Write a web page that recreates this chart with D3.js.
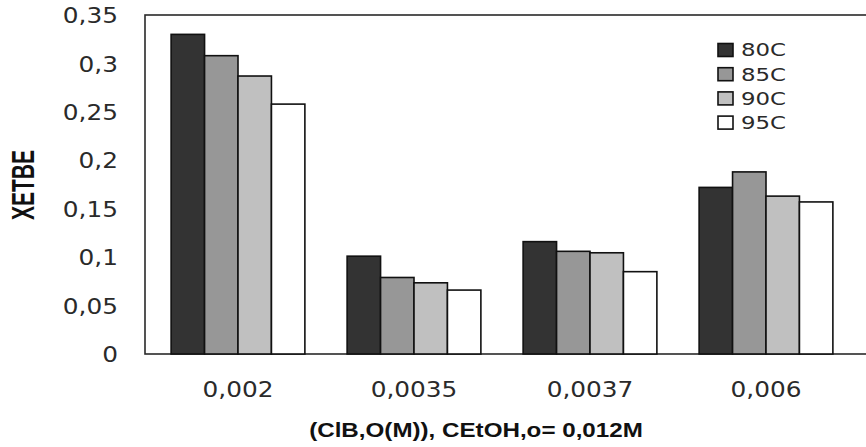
<!DOCTYPE html>
<html>
<head>
<meta charset="utf-8">
<script src="https://cdn.jsdelivr.net/npm/d3@7"></script>
<style>
  html, body { margin: 0; padding: 0; background: #fff; }
  svg { display: block; }
</style>
</head>
<body>
<svg id="chart" width="866" height="447"></svg>
<script>
// Initial concentration categories on the x axis
const categories = ["0,002", "0,0035", "0,0037", "0,006"];
// Temperature series
const seriesNames = ["80C", "85C", "90C", "95C"];
const seriesColors = ["#333333", "#979797", "#c0c0c0", "#ffffff"];
// XETBE values per series, one per category
const values80 = [0.330, 0.101, 0.116, 0.172];
const values85 = [0.308, 0.079, 0.106, 0.188];
const values90 = [0.287, 0.0735, 0.1045, 0.163];
const values95 = [0.258, 0.066, 0.085, 0.157];
const yTickValues = [0, 0.05, 0.1, 0.15, 0.2, 0.25, 0.3, 0.35];
const yTitle = "XETBE";
const xTitle = "(ClB,O(M)), CEtOH,o= 0,012M";

const seriesValues = [values80, values85, values90, values95];
const rows = categories.map((c, i) => ({
  cat: c,
  vals: seriesNames.map((s, j) => ({ key: s, value: seriesValues[j][i], color: seriesColors[j] }))
}));

const svg = d3.select("#chart");
const plot = { left: 145, top: 15, right: 880, bottom: 354 };

const y = d3.scaleLinear().domain([0, 0.35]).range([plot.bottom, plot.top]);
const x0 = d3.scaleBand().domain(categories).range([150, 854])
  .paddingInner(0.24).paddingOuter(0.12);
const x1 = d3.scaleBand().domain(seriesNames).range([0, x0.bandwidth()]);

// Decimal comma formatting for the value axis
const fmt = d => d3.format("~g")(d).replace(".", ",");

// Plot frame (open on the right side)
svg.append("rect")
  .attr("x", plot.left).attr("y", plot.top)
  .attr("width", plot.right - plot.left).attr("height", plot.bottom - plot.top)
  .attr("fill", "none").attr("stroke", "#2a2a2a").attr("stroke-width", 1.6);

// Bars
const groups = svg.append("g").selectAll("g").data(rows).join("g")
  .attr("transform", d => `translate(${x0(d.cat)},0)`);
groups.selectAll("rect").data(d => d.vals).join("rect")
  .attr("x", d => x1(d.key))
  .attr("y", d => y(d.value))
  .attr("width", x1.bandwidth())
  .attr("height", d => y(0) - y(d.value))
  .attr("fill", d => d.color)
  .attr("stroke", "#111").attr("stroke-width", 1.6);

// Y axis labels
const yAxis = d3.axisLeft(y).tickValues(yTickValues).tickFormat(fmt).tickSize(0).tickPadding(0);
const yg = svg.append("g").attr("transform", "translate(118,0)").call(yAxis);
yg.select(".domain").remove();
yg.selectAll("text")
  .attr("font-family", "DejaVu Sans").attr("font-size", 21).attr("fill", "#2a2a2a")
  .attr("dy", "0.36em")
  .attr("text-anchor", "end")
  .style("transform-box", "fill-box").style("transform-origin", "right center")
  .style("transform", "scaleX(1.18)");

// X axis labels
const xAxis = d3.axisBottom(x0).tickSize(0).tickPadding(0);
const xg = svg.append("g").attr("transform", "translate(0,397)").call(xAxis);
xg.select(".domain").remove();
xg.selectAll("text")
  .attr("font-family", "DejaVu Sans").attr("font-size", 21).attr("fill", "#2a2a2a")
  .attr("y", 0).attr("dy", 0)
  .style("transform-box", "fill-box").style("transform-origin", "center")
  .style("transform", "scaleX(1.18)");

// Axis titles
svg.append("text")
  .attr("transform", "translate(34,185) rotate(-90) scale(1,1.45)")
  .attr("text-anchor", "middle")
  .attr("font-family", "Liberation Sans").attr("font-weight", "bold")
  .attr("font-size", 21).attr("fill", "#111")
  .text(yTitle);

svg.append("text")
  .attr("x", 476).attr("y", 437)
  .attr("text-anchor", "middle")
  .attr("font-family", "Liberation Sans").attr("font-weight", "bold")
  .attr("font-size", 19.5).attr("fill", "#111")
  .style("transform-box", "fill-box").style("transform-origin", "center")
  .style("transform", "scaleX(1.24)")
  .text(xTitle);

// Legend
const legend = svg.append("g").selectAll("g").data(seriesNames).join("g")
  .attr("transform", (d, i) => `translate(718,${50 + i * 24.2})`);
legend.append("rect")
  .attr("x", 0).attr("y", -6.5).attr("width", 15).attr("height", 13)
  .attr("fill", (d, i) => seriesColors[i])
  .attr("stroke", "#111").attr("stroke-width", 1.6);
legend.append("text")
  .attr("x", 23).attr("y", 0).attr("dy", "0.36em")
  .attr("font-family", "DejaVu Sans").attr("font-size", 18).attr("fill", "#2a2a2a")
  .style("transform-box", "fill-box").style("transform-origin", "left center")
  .style("transform", "scaleX(1.27)")
  .text(d => d);
</script>
</body>
</html>
